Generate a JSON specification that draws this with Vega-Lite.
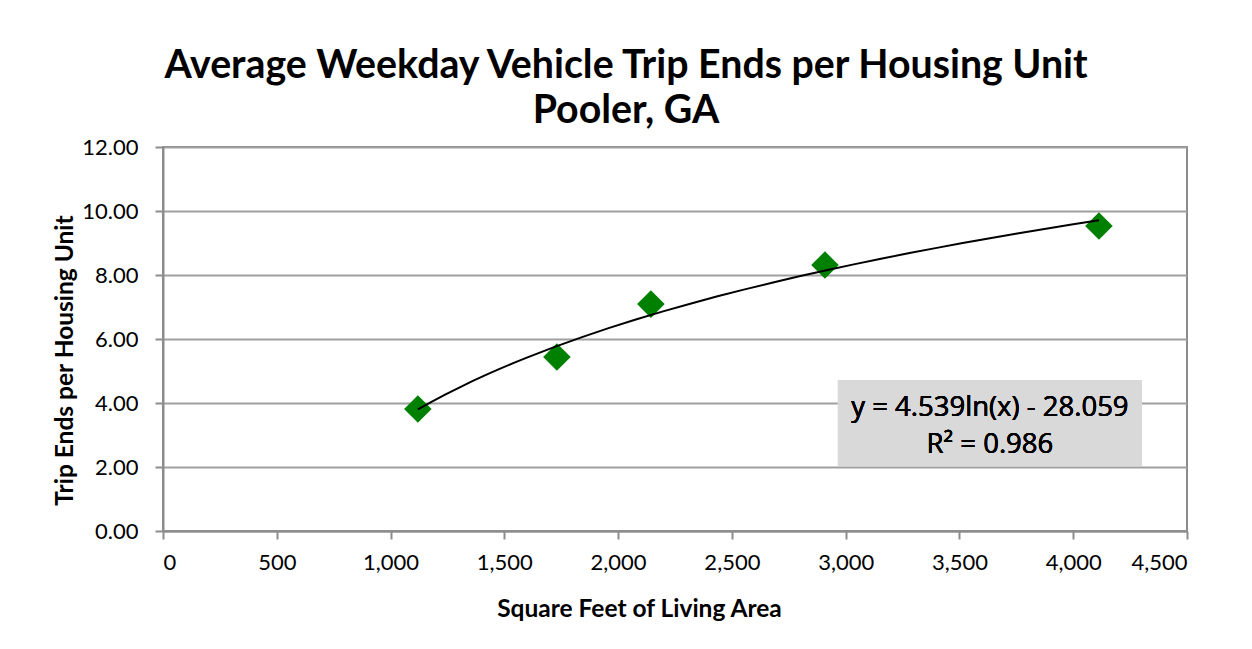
{
  "$schema": "https://vega.github.io/schema/vega-lite/v6.json",
  "autosize": "none",
  "padding": {"left": 163, "top": 147, "right": 65, "bottom": 118},
  "width": 1024,
  "height": 384,
  "background": "white",
  "title": {
    "text": ["Average Weekday Vehicle Trip Ends per Housing Unit", "Pooler, GA"],
    "font": "Lato",
    "fontSize": 39.3,
    "fontWeight": "bold",
    "color": "black",
    "lineHeight": 45,
    "anchor": "middle",
    "baseline": "bottom",
    "offset": -34,
    "dx": -49
  },
  "config": {
    "view": {"stroke": "#8c8c8c", "strokeWidth": 2},
    "axis": {
      "labelFont": "Lato",
      "labelFontSize": 22,
      "labelColor": "black",
      "titleFont": "Lato",
      "titleFontSize": 24.5,
      "titleFontWeight": "bold",
      "titleColor": "black",
      "domainColor": "#8c8c8c",
      "domainWidth": 2,
      "tickColor": "#8c8c8c",
      "tickWidth": 2,
      "tickSize": 8
    }
  },
  "data": {
    "values": [
      {"sqft": 1120, "trips": 3.81},
      {"sqft": 1731, "trips": 5.44},
      {"sqft": 2144, "trips": 7.09},
      {"sqft": 2909, "trips": 8.31},
      {"sqft": 4113, "trips": 9.53}
    ]
  },
  "layer": [
    {
      "mark": {"type": "point", "shape": "diamond", "filled": true, "color": "#008000", "size": 760, "opacity": 1},
      "encoding": {
        "x": {
          "field": "sqft", "type": "quantitative",
          "scale": {"domain": [0, 4500], "nice": false, "zero": true},
          "axis": {"values": [0, 500, 1000, 1500, 2000, 2500, 3000, 3500, 4000, 4500], "format": ",.0f", "grid": false, "title": "Square Feet of Living Area", "labelPadding": 13, "titlePadding": 24, "titleX": 476}
        },
        "y": {
          "field": "trips", "type": "quantitative",
          "scale": {"domain": [0, 12], "nice": false},
          "axis": {"values": [0, 2, 4, 6, 8, 10, 12], "format": ".2f", "grid": true, "gridColor": "#a0a0a0", "gridWidth": 2, "title": "Trip Ends per Housing Unit", "labelPadding": 17, "titlePadding": 4, "titleY": 213}
        }
      }
    },
    {
      "transform": [{"regression": "trips", "on": "sqft", "method": "log"}],
      "mark": {"type": "line", "color": "black", "strokeWidth": 2},
      "encoding": {
        "x": {"field": "sqft", "type": "quantitative"},
        "y": {"field": "trips", "type": "quantitative"}
      }
    },
    {
      "mark": {"type": "rect", "color": "#d9d9d9", "opacity": 1},
      "encoding": {
        "x": {"datum": 2966},
        "x2": {"datum": 4302},
        "y": {"datum": 4.72},
        "y2": {"datum": 2.03}
      }
    },
    {
      "mark": {"type": "text", "font": "Open Sans", "fontSize": 27.5, "fontWeight": 400, "color": "black", "align": "center", "baseline": "middle", "lineHeight": 37},
      "encoding": {
        "x": {"datum": 3634},
        "y": {"datum": 3.84},
        "text": {"value": ["y = 4.539ln(x) - 28.059", "R² = 0.986"]}
      }
    }
  ]
}
